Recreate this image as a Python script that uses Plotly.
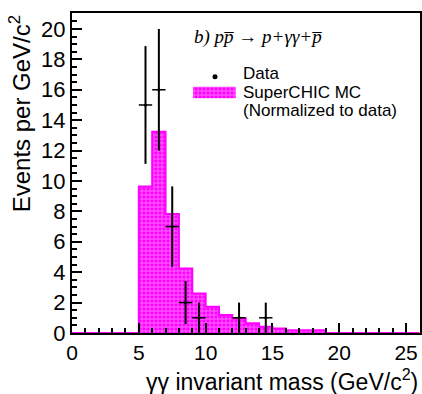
import plotly.graph_objects as go

# Histogram binning (1 GeV/c^2 bins) and SuperCHIC MC expectation per bin
bin_edges = list(range(0, 27))
mc_counts = [0, 0, 0, 0, 0, 9.63, 13.24, 7.83, 4.25, 2.6, 1.73, 1.18, 0.96,
             0.64, 0.41, 0.3, 0.18, 0.18, 0.18, 0, 0, 0, 0, 0, 0, 0]

# Observed data points (bin centres, counts, Poisson errors)
data_mass = [5.5, 6.5, 7.5, 8.5, 9.5, 12.5, 14.5]
data_counts = [15, 16, 7, 2, 1, 1, 1]
data_err = [c ** 0.5 for c in data_counts]

MAGENTA = "#ff00ff"
FONT = "Liberation Sans, Arial, sans-serif"
HATCH = dict(shape="+", fgcolor="#ffe0ff", bgcolor=MAGENTA, size=4, solidity=0.4)

centres = [(a + b) / 2 for a, b in zip(bin_edges[:-1], bin_edges[1:])]

fig = go.Figure()

# filled histogram
fig.add_trace(go.Bar(
    x=centres, y=mc_counts, width=1.0,
    marker=dict(color=MAGENTA, line=dict(width=0), pattern=HATCH),
    showlegend=False, hoverinfo="skip"))

# histogram outline drawn as a step line over the full range
step_x = bin_edges
step_y = mc_counts + [mc_counts[-1]]
fig.add_trace(go.Scatter(
    x=step_x, y=step_y, mode="lines", line=dict(color=MAGENTA, width=2, shape="hv"),
    showlegend=False, hoverinfo="skip"))

# data with error bars
fig.add_trace(go.Scatter(
    x=data_mass, y=data_counts, mode="markers",
    marker=dict(color="black", size=3),
    error_y=dict(type="data", array=data_err, color="black", thickness=2, width=0),
    error_x=dict(type="constant", value=0.5, color="black", thickness=1.5, width=0),
    showlegend=False))

# legend drawn by hand: data marker and hatched box
fig.add_trace(go.Scatter(
    x=[10.7], y=[16.85], mode="markers", marker=dict(color="black", size=5),
    showlegend=False, hoverinfo="skip"))
fig.add_trace(go.Scatter(
    x=[9.05, 12.25, 12.25, 9.05, 9.05], y=[15.45, 15.45, 16.2, 16.2, 15.45],
    mode="lines", line=dict(width=0, color=MAGENTA), fill="toself",
    fillcolor=MAGENTA, fillpattern=HATCH, showlegend=False, hoverinfo="skip"))

legend_font = dict(family=FONT, size=17, color="black")
for txt, yv in [("Data", 17.05), ("SuperCHIC MC", 15.85), ("(Normalized to data)", 14.62)]:
    fig.add_annotation(x=12.8, y=yv, text=txt, showarrow=False, xanchor="left",
                       yanchor="middle", font=legend_font, xshift=-2)

# process label
fig.add_annotation(x=8.95, y=19.5, showarrow=False, xanchor="left", yanchor="middle",
                   text="<i>b) pp\u0305 \u2192 p+\u03b3\u03b3+p\u0305</i>",
                   font=dict(family="Liberation Serif, Times New Roman, serif",
                             size=19, color="black"))

# axis titles (right/top aligned)
fig.add_annotation(xref="paper", yref="paper", x=1.0, y=-0.093, xanchor="right",
                   yanchor="top", showarrow=False,
                   text="\u03b3\u03b3 invariant mass (GeV/c<sup>2</sup>)",
                   font=dict(family=FONT, size=23, color="black"))
fig.add_annotation(xref="paper", yref="paper", x=-0.15, y=1.0, xanchor="center",
                   yanchor="top", showarrow=False, textangle=-90,
                   text="Events per GeV/c<sup>2</sup>",
                   font=dict(family=FONT, size=24, color="black"))

fig.update_layout(
    width=422, height=394,
    margin=dict(l=72, r=0, t=13, b=61),
    plot_bgcolor="white", paper_bgcolor="white",
    bargap=0,
    xaxis=dict(range=[0, 26.04], tickvals=[0, 5, 10, 15, 20, 25],
               ticks="inside", ticklen=10, tickwidth=1.5, tickcolor="black",
               minor=dict(dtick=1, ticks="inside", ticklen=5, tickwidth=1.5, tickcolor="black"),
               showline=True, linecolor="black", linewidth=2, mirror=True,
               showgrid=False, zeroline=False,
               tickfont=dict(family=FONT, size=21, color="black")),
    yaxis=dict(range=[0, 21.05], tickvals=list(range(0, 21, 2)),
               ticks="inside", ticklen=10, tickwidth=1.5, tickcolor="black",
               minor=dict(dtick=0.5, ticks="inside", ticklen=5, tickwidth=1.5, tickcolor="black"),
               showline=True, linecolor="black", linewidth=2, mirror=True,
               showgrid=False, zeroline=False,
               tickfont=dict(family=FONT, size=22, color="black")),
)

fig.write_html("out.html")
